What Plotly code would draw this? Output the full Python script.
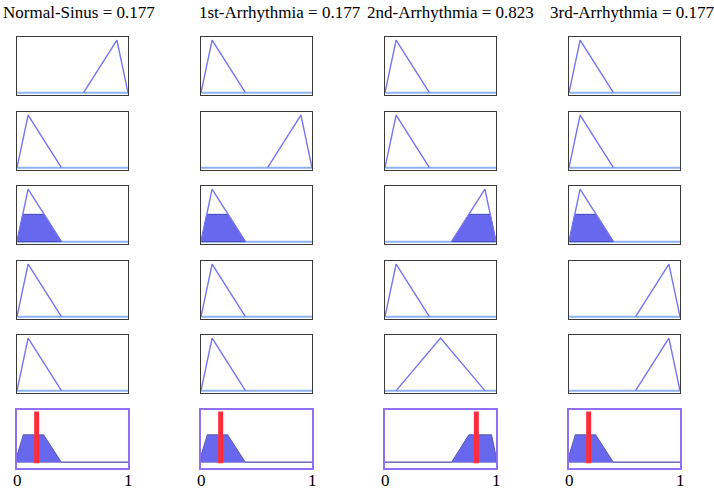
import plotly.graph_objects as go

# ---------------- data ----------------
outputs = ["Normal-Sinus", "1st-Arrhythmia", "2nd-Arrhythmia", "3rd-Arrhythmia"]
output_values = [0.177, 0.177, 0.823, 0.177]

# membership function parameters (a, b, c) per rule row, per output column
mf_low = [0.0, 0.1, 0.4]
mf_high = [0.6, 0.9, 1.0]
mf_mid = [0.1, 0.5, 0.9]
rule_mfs = [
    # row1      row2     row3     row4     row5
    [mf_high, mf_low, mf_low, mf_low, mf_low],     # Normal-Sinus
    [mf_low, mf_high, mf_low, mf_low, mf_low],     # 1st-Arrhythmia
    [mf_low, mf_low, mf_high, mf_low, mf_mid],     # 2nd-Arrhythmia
    [mf_low, mf_low, mf_low, mf_high, mf_high],    # 3rd-Arrhythmia
]
fired_row = 3           # rule row whose output set is clipped (1-based)
firing_strength = 0.52

# aggregated output shapes (x, y) per column
agg_x = [
    [0, 0, 0.057, 0.24, 0.4, 1.0],
    [0, 0, 0.057, 0.24, 0.4, 1.0],
    [0, 0.6, 0.755, 0.96, 1.0, 1.0],
    [0, 0, 0.057, 0.24, 0.4, 1.0],
]
agg_y = [
    [0, 0.13, 0.52, 0.52, 0, 0],
    [0, 0.13, 0.52, 0.52, 0, 0],
    [0, 0, 0.52, 0.52, 0.11, 0],
    [0, 0.13, 0.52, 0.52, 0, 0],
]
x_tick_labels = ["0", "1"]

# ---------------- layout geometry ----------------
W, H = 714, 490
col_left = [17, 201, 385, 569]
col_w = 111
row_top = [37, 112, 186, 261, 335, 409.5]
row_h = 58
FONT = "'Liberation Serif', 'DejaVu Serif', serif"

LINE = "#7474f4"
BASE = "#8fb2f2"
FILL = "#6868ee"

fig = go.Figure()
layout = dict(
    width=W, height=H, margin=dict(l=0, r=0, t=0, b=0),
    paper_bgcolor="white", plot_bgcolor="white", showlegend=False,
    font=dict(family=FONT),
)
ax = 0
annotations = []
for c in range(4):
    for r in range(6):
        ax += 1
        xa = "x" if ax == 1 else f"x{ax}"
        ya = "y" if ax == 1 else f"y{ax}"
        xkey = "xaxis" if ax == 1 else f"xaxis{ax}"
        ykey = "yaxis" if ax == 1 else f"yaxis{ax}"
        x0 = col_left[c] / W
        x1 = (col_left[c] + col_w) / W
        y1 = 1 - row_top[r] / H
        y0 = 1 - (row_top[r] + row_h) / H
        last = r == 5
        border = "#9070f6" if last else "#3a3a3a"
        layout[xkey] = dict(domain=[x0, x1], range=[0, 1], showgrid=False, zeroline=False,
                            showticklabels=False, ticks="", showline=True, mirror=True,
                            linecolor=border, linewidth=1.6 if last else 1.2, anchor=ya, fixedrange=True)
        layout[ykey] = dict(domain=[y0, y1], range=[-0.1, 1.0] if last else [-0.045, 1.06],
                            showgrid=False, zeroline=False, showticklabels=False, ticks="",
                            showline=True, mirror=True, linecolor=border,
                            linewidth=1.6 if last else 1.2, anchor=xa, fixedrange=True)
        if not last:
            a, b, cc = rule_mfs[c][r]
            fig.add_trace(go.Scatter(x=[0, 1], y=[0, 0], mode="lines",
                                     line=dict(color=BASE, width=2), xaxis=xa, yaxis=ya,
                                     hoverinfo="skip"))
            if r + 1 == fired_row:
                h = firing_strength
                xl = a + (b - a) * h
                xr = cc - (cc - b) * h
                fig.add_trace(go.Scatter(x=[a, xl, xr, cc, a], y=[0, h, h, 0, 0], mode="lines",
                                         fill="toself", fillcolor=FILL,
                                         line=dict(color="#4848b8", width=1),
                                         xaxis=xa, yaxis=ya, hoverinfo="skip"))
            fig.add_trace(go.Scatter(x=[a, b, cc], y=[0, 1, 0], mode="lines",
                                     line=dict(color=LINE, width=1.4), xaxis=xa, yaxis=ya,
                                     hoverinfo="skip"))
        else:
            fig.add_trace(go.Scatter(x=[0, 1], y=[0, 0], mode="lines",
                                     line=dict(color="#a8a0c8", width=1.5), xaxis=xa, yaxis=ya,
                                     hoverinfo="skip"))
            fig.add_trace(go.Scatter(x=agg_x[c], y=agg_y[c], mode="lines", fill="toself",
                                     fillcolor=FILL, line=dict(color="#5a5ab0", width=1),
                                     xaxis=xa, yaxis=ya, hoverinfo="skip"))
            v = output_values[c]
            fig.add_trace(go.Scatter(x=[v, v], y=[-0.02, 0.96], mode="lines",
                                     line=dict(color="#ff2e3a", width=5), xaxis=xa, yaxis=ya,
                                     hoverinfo="skip"))
            for tv, tl in zip([0, 1], x_tick_labels):
                annotations.append(dict(x=tv, y=1 - 480.5 / H, xref=xa, yref="paper", text=tl,
                                        showarrow=False, yanchor="middle", xanchor="center",
                                        font=dict(family=FONT, size=17, color="black")))

title_left = [1, 197, 365, 548]
for c in range(4):
    annotations.append(dict(x=title_left[c] / W, y=1 - 13 / H, xref="paper", yref="paper",
                            xanchor="left", yanchor="middle", showarrow=False,
                            text=f"{outputs[c]} = {output_values[c]:.3f}",
                            font=dict(family=FONT, size=17, color="black")))
layout["annotations"] = annotations
fig.update_layout(**layout)
fig.write_html("out.html", config={"displayModeBar": False},
               post_script="document.body.style.margin='0';document.body.style.overflow='hidden';")
